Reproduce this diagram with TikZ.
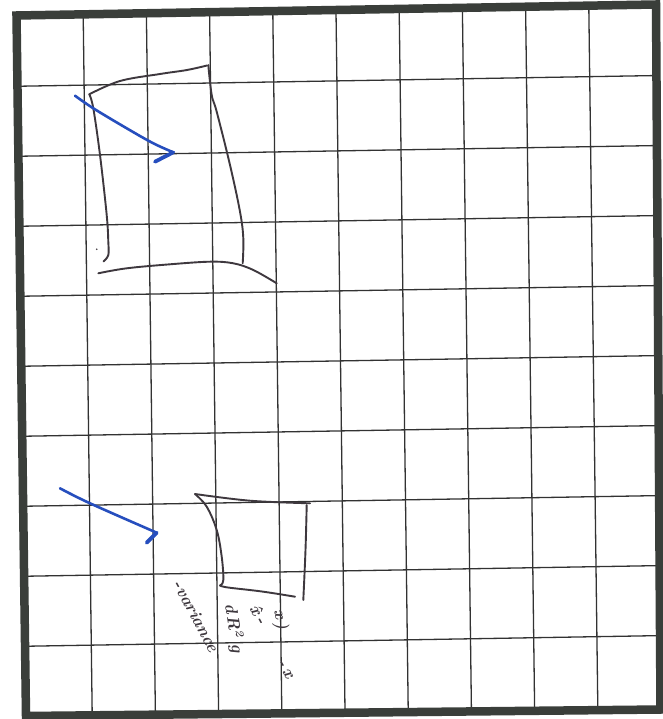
\documentclass[tikz,border=0pt]{standalone}
\usetikzlibrary{calc}
\definecolor{framecol}{RGB}{58,62,58}
\definecolor{gridcol}{RGB}{50,50,50}
\definecolor{pencol}{RGB}{62,56,62}
\definecolor{bluecol}{RGB}{38,78,190}
\begin{document}
\begin{tikzpicture}[x=1pt,y=-1pt,
  gridline/.style={draw=gridcol,line width=1.3pt},
  frameline/.style={draw=framecol,line width=8.5pt,line join=miter},
  pen/.style={draw=pencol,line width=1.9pt,line cap=round,line join=round},
  bluepen/.style={draw=bluecol,line width=2.6pt,line cap=round,line join=round},
  bluehook/.style={draw=bluecol,line width=3.8pt,line cap=round},
  hand/.style={text=pencol,font=\fontsize{17}{17}\selectfont\bfseries\itshape,inner sep=0pt}]
\fill[white] (0,0) rectangle (662,719);
\useasboundingbox (0,0) rectangle (662,719);
% grid
\foreach \u in {1,...,9}
  \draw[gridline] ({20+63.2*\u},{16.2-1.06*\u}) -- ({29+63.2*\u},{716.2-1.06*\u});
\foreach \v in {1,...,9}
  \draw[gridline] ({20+0.9*\v},{16.2+70*\v}) -- ({652+0.9*\v},{5.6+70*\v});
% frame
\draw[frameline] (16.5,15.5) -- (656,4.5) -- (660.5,709.5) -- (26,716) -- cycle;
% upper box
\draw[pen] plot[smooth,tension=0.6] coordinates {(89.3,94.3) (120,81) (160,74) (187,70) (207,65.5)};
\draw[pen] plot[smooth,tension=0.6] coordinates {(89.3,94.3) (93.3,108.3) (100,155) (106.7,215) (108.3,241.7) (108.3,255) (103.5,261.5)};
\draw[pen] plot[smooth,tension=0.6] coordinates {(208.3,65) (211.7,95) (216.7,111.7) (230,165) (240,211.7) (243.3,238.3) (242.7,263.3)};
\draw[pen] plot[smooth,tension=0.6] coordinates {(98.3,273.3) (126.7,268.3) (170,264.3) (210,261.7) (233.3,263.3) (253.3,270) (276.7,283.3)};
\fill[pencol] (96.7,249.3) circle (0.9);
% upper blue stroke
\draw[bluepen] plot[smooth,tension=0.6] coordinates {(75,95.7) (93.3,108.3) (126.7,128.3) (153.3,143.3) (173.3,152.3)};
\draw[bluehook] (173.3,152.3) -- (155,161.7);
% lower blue stroke
\draw[bluepen] plot[smooth,tension=0.6] coordinates {(60,488.3) (90,503.3) (156.7,532.7)};
\draw[bluehook] (156.7,532.7) -- (146.7,542.7);
% lower box
\draw[pen] plot[smooth,tension=0.6] coordinates {(195,494) (250,500.7) (310,503.3)};
\draw[pen] plot[smooth,tension=0.6] coordinates {(195,494) (206.7,506.7) (216.7,530) (221.7,556.7) (223.3,580) (220,585.5)};
\draw[pen] plot[smooth,tension=0.6] coordinates {(220,585.5) (228,587.5) (262,591.5) (295,596.7)};
\draw[pen] plot[smooth,tension=0.6] coordinates {(306.7,505) (305.5,550) (303.3,600)};
% handwritten notes
\node[hand,rotate=-62] (t1) at (196,616) {-variance};
\node[hand,rotate=-81] (t2) at (234,628) {d\,R\textsuperscript{2}\,\,g};
\node[hand,rotate=-62] (t3) at (259,614) {\^x\,-};
\node[hand,rotate=-80] (t4) at (280,620) {x\,)};
\node[hand,rotate=-60] (t5) at (285,669) {-\,x};
\end{tikzpicture}
\end{document}
